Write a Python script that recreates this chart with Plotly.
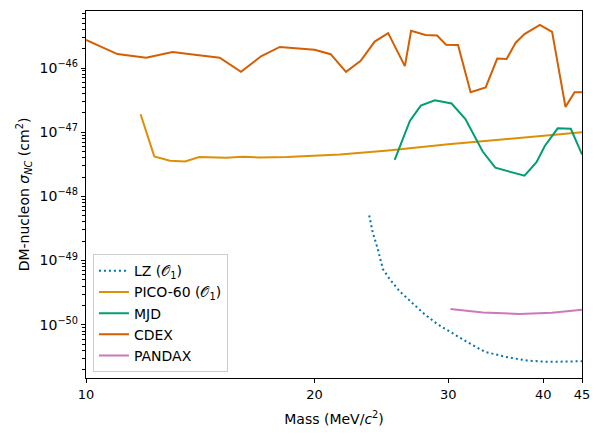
import numpy as np
import plotly.graph_objects as go

# LZ (O1)
lz_mass = [23.6, 23.85, 24.2, 24.6, 25.1, 25.9, 26.85, 27.9, 29.0, 30.2, 31.6, 33.5, 35.7, 38.1, 40.7, 44.4, 45.0]
lz_sigma = [5.05e-49, 2.8e-49, 1.58e-49, 7.4e-50, 5.2e-50, 3.3e-50, 2.23e-50, 1.47e-50, 1.03e-50,
            7.7e-51, 5.6e-51, 3.8e-51, 3.16e-51, 2.77e-51, 2.64e-51, 2.7e-51, 2.7e-51]

# PICO-60 (O1)
pico_mass = [11.8, 12.3, 12.9, 13.5, 14.1, 15.3, 16.1, 16.9, 18.4, 21.6, 25.0, 30.0, 35.0, 40.0, 45.0]
pico_sigma = [1.9e-47, 4.2e-48, 3.6e-48, 3.5e-48, 4.1e-48, 4.0e-48, 4.15e-48, 4.05e-48, 4.1e-48,
              4.5e-48, 5.2e-48, 6.5e-48, 7.6e-48, 8.8e-48, 1.0e-47]

# MJD
mjd_mass = [25.5, 26.7, 27.6, 28.8, 30.3, 31.6, 33.3, 34.6, 37.8, 39.2, 40.2, 41.8, 43.5, 45.0]
mjd_sigma = [3.7e-48, 1.5e-47, 2.6e-47, 3.15e-47, 2.8e-47, 1.6e-47, 5.0e-48, 2.8e-48, 2.1e-48,
             3.4e-48, 6.1e-48, 1.15e-47, 1.13e-47, 4.5e-48]

# CDEX
cdex_mass = [10.0, 11.0, 12.0, 13.0, 14.0, 15.0, 16.0, 17.0, 18.0, 20.0, 21.0, 22.0, 23.0, 24.0, 25.0,
             26.3, 26.8, 28.0, 29.0, 29.8, 30.9, 32.1, 33.6, 34.8, 35.8, 36.8, 37.8, 39.6, 41.1, 42.8,
             44.0, 45.0]
cdex_sigma = [2.74e-46, 1.65e-46, 1.45e-46, 1.78e-46, 1.6e-46, 1.45e-46, 8.7e-47, 1.52e-46, 2.13e-46,
              1.93e-46, 1.64e-46, 8.7e-47, 1.29e-46, 2.58e-46, 3.5e-46, 1.07e-46, 3.8e-46, 3.28e-46,
              3.2e-46, 2.31e-46, 2.29e-46, 4.2e-47, 5.0e-47, 1.4e-46, 1.38e-46, 2.48e-46, 3.37e-46,
              4.7e-46, 3.65e-46, 2.48e-47, 4.2e-47, 4.2e-47]

# PANDAX
pandax_mass = [30.2, 33.3, 37.2, 41.1, 45.0]
pandax_sigma = [1.76e-50, 1.56e-50, 1.47e-50, 1.54e-50, 1.71e-50]

x_ticks = [10, 20, 30, 40, 45]
y_exps = [-50, -49, -48, -47, -46]

font = "DejaVu Sans"

fig = go.Figure()

series = [
    (lz_mass, lz_sigma, "LZ (𝒪<sub>1</sub>)", "#0173b2", "2px,3px"),
    (pico_mass, pico_sigma, "PICO-60 (𝒪<sub>1</sub>)", "#de8f05", "solid"),
    (mjd_mass, mjd_sigma, "MJD", "#029e73", "solid"),
    (cdex_mass, cdex_sigma, "CDEX", "#d55e00", "solid"),
    (pandax_mass, pandax_sigma, "PANDAX", "#cc78bc", "solid"),
]

for xs, ys, nome, cor, estilo in series:
    fig.add_trace(go.Scatter(
        x=xs, y=ys, name=nome, mode="lines",
        line=dict(color=cor, width=2, dash=estilo)
    ))

fig.update_layout(
    width=600, height=438,
    margin=dict(l=86, r=18, t=11, b=60, autoexpand=False),
    paper_bgcolor="white", plot_bgcolor="white",
    font=dict(family=font, size=13, color="black"),
    showlegend=True,
    legend=dict(
        x=0.014, y=0.016, xanchor="left", yanchor="bottom",
        bgcolor="rgba(255,255,255,0.8)", bordercolor="#cccccc", borderwidth=1,
        font=dict(family=font, size=14, color="black"), tracegroupgap=0, itemwidth=30
    ),
    xaxis=dict(
        type="log", range=[1, np.log10(45)],
        tickvals=x_ticks, ticktext=[str(t) for t in x_ticks],
        tickfont=dict(family=font, size=13, color="black"),
        showgrid=False, zeroline=False,
        showline=True, linecolor="black", linewidth=1.2, mirror=True,
        ticks="outside", ticklen=4, tickcolor="black",
        title=dict(text="Mass (MeV/<i>c</i><sup>2</sup>)", standoff=13,
                   font=dict(family=font, size=14, color="black")),
    ),
    yaxis=dict(
        type="log", range=[-50.829, -45.112],
        tickvals=[10.0 ** e for e in y_exps],
        ticktext=[f"10<sup>−{-e}</sup>" for e in y_exps],
        tickfont=dict(family=font, size=14, color="black"),
        showgrid=False, zeroline=False,
        showline=True, linecolor="black", linewidth=1.2, mirror=True,
        ticks="outside", ticklen=4, tickcolor="black",
        minor=dict(ticks="outside", ticklen=2.5, tickcolor="black", dtick="D1", showgrid=False),
        title=dict(text="DM-nucleon <i>σ<sub>NC</sub></i> (cm<sup>2</sup>)", standoff=6,
                   font=dict(family=font, size=14, color="black")),
    ),
)

fig.write_html("out.html", config={"displayModeBar": False},
               post_script="document.body.style.margin='0';")
